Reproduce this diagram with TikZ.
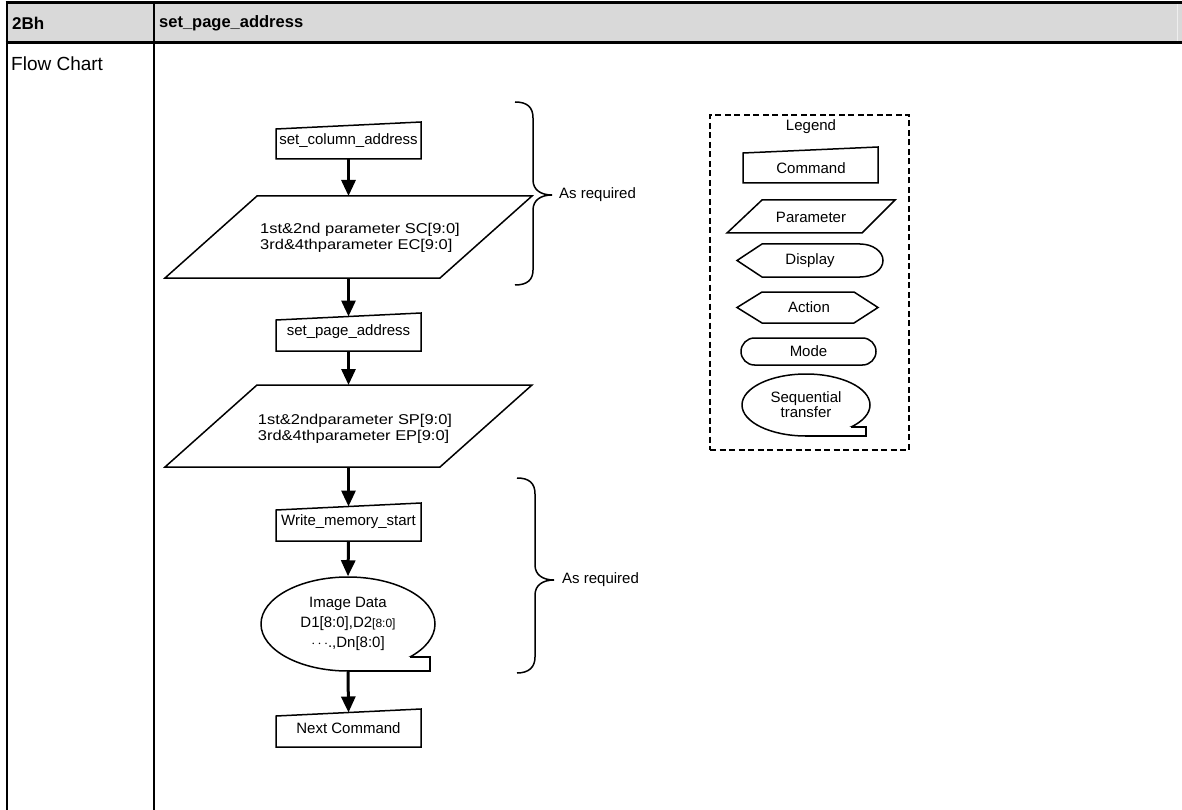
\documentclass[tikz,border=0pt]{standalone}
\usepackage{fontspec}
\setmainfont{Liberation Sans}
\newfontfamily\widefont[FakeStretch=1.16]{Liberation Sans}
\usetikzlibrary{arrows.meta,calc,shapes.geometric}
\definecolor{hdr}{HTML}{D9D9D9}
\definecolor{hdrline}{HTML}{EEEEEE}
\begin{document}
\begin{tikzpicture}[x=1pt,y=-1pt,
  shp/.style={draw=black,line width=1.5pt},
  lbl/.style={font=\fontsize{15}{16}\selectfont, inner sep=0pt},
  plbl/.style={font=\widefont\fontsize{14.2}{16.5}\selectfont, inner sep=0pt, align=left},
  box/.style={inner sep=0pt, outer sep=0pt},
  arr/.style={line width=3pt, -{Triangle[width=14pt,length=16pt]}},
  bracepath/.style={line width=1.5pt},
  ldash/.style={draw=black, line width=2.4pt, dash pattern=on 6pt off 3.5pt},
  ]
\useasboundingbox (0,0) rectangle (1182,810);
% ---------- table ----------
\fill[hdr] (7,3) rectangle (1182,43);
\draw[hdrline, line width=1pt] (1177,4.5) -- (1177,41.5);
\draw[line width=3pt] (5.7,3) -- (1182,3);
\draw[line width=3pt] (5.7,43) -- (1182,43);
\draw[line width=2.6pt] (7,1.5) -- (7,810);
\draw[line width=2.6pt] (154,1.5) -- (154,810);
\node[anchor=west, inner sep=0pt, font=\bfseries\fontsize{17}{19}\selectfont] (h1) at (12,23) {2Bh};
\node[anchor=west, inner sep=0pt, font=\bfseries\fontsize{16.5}{19}\selectfont] (h2) at (159,23) {set\_page\_address};
\node[anchor=west, inner sep=0pt, font=\fontsize{19}{21}\selectfont] (fc) at (11,64) {Flow Chart};
% ---------- flow chart ----------
\node[box, lbl, minimum width=145pt, minimum height=37pt] (c1) at (348.5,140.5) {set\_column\_address};
\draw[shp] (c1.south west) -- (c1.south east) -- (c1.north east) -- ($(c1.north west)+(0,7)$) -- cycle;

\node[box, minimum width=367pt, minimum height=82pt] (p1) at (348.5,237) {};
\draw[shp] ($(p1.north west)+(92,0)$) -- (p1.north east) -- ($(p1.south east)+(-92,0)$) -- (p1.south west) -- cycle;
\node[plbl] (p1t) at (360,238) {1st\&2nd parameter SC[9:0]\\3rd\&4thparameter EC[9:0]};

\node[box, lbl, minimum width=145pt, minimum height=38pt] (c2) at (348.5,332) {set\_page\_address};
\draw[shp] (c2.south west) -- (c2.south east) -- (c2.north east) -- ($(c2.north west)+(0,7)$) -- cycle;

\node[box, minimum width=367pt, minimum height=82pt] (p2) at (348.5,426) {};
\draw[shp] ($(p2.north west)+(92,0)$) -- (p2.north east) -- ($(p2.south east)+(-92,0)$) -- (p2.south west) -- cycle;
\node[plbl] (p2t) at (355,429) {1st\&2ndparameter SP[9:0]\\3rd\&4thparameter EP[9:0]};

\node[box, lbl, minimum width=145pt, minimum height=38pt] (c3) at (348.5,522) {Write\_memory\_start};
\draw[shp] (c3.south west) -- (c3.south east) -- (c3.north east) -- ($(c3.north west)+(0,7)$) -- cycle;

\node[shp, ellipse, inner sep=0pt, minimum width=174pt, minimum height=94pt, align=center, font=\fontsize{15}{20}\selectfont] (s1) at (348,624) {Image Data\\D1[8:0],D2{\fontsize{12}{12}\selectfont[8:0]}\\$\cdots$.,Dn[8:0]};
\fill[white] (349,657) rectangle (434,675);
\draw[shp] (347,671) -- (430,671) -- (430,657) -- (409.5,657);

\node[box, lbl, minimum width=145pt, minimum height=38pt] (c4) at (348.5,728) {Next Command};
\draw[shp] (c4.south west) -- (c4.south east) -- (c4.north east) -- ($(c4.north west)+(0,7)$) -- cycle;

% arrows
\draw[arr] (c1.south) -- (p1.north);
\draw[arr] (p1.south) -- ($(c2.north)+(0,3.5)$);
\draw[arr] (c2.south) -- (p2.north);
\draw[arr] (p2.south) -- ($(c3.north)+(0,3.5)$);
\draw[arr] (c3.south) -- (s1.north);
\draw[arr] (s1.south) -- ($(c4.north)+(0,3.5)$);

% braces
\draw[bracepath] (515,102) .. controls (527,102) and (533,107) .. (533,118) -- (533,180) .. controls (533,190) and (541,195) .. (552,195) .. controls (541,195) and (533,200) .. (533,210) -- (533,270) .. controls (533,280) and (527,285) .. (515,285);
\node[lbl, anchor=west] (ar1) at (559,195) {As required};
\draw[bracepath] (517,478) .. controls (529,478) and (535,483) .. (535,494) -- (535,565) .. controls (535,575) and (543,580) .. (554,580) .. controls (543,580) and (535,585) .. (535,595) -- (535,657) .. controls (535,667) and (529,673) .. (517,673);
\node[lbl, anchor=west] (ar2) at (562,580) {As required};

% ---------- legend ----------
\node[ldash, minimum width=199pt, minimum height=335pt, inner sep=0pt] (lg) at (809.5,282.5) {};
\node[lbl] (lgt) at (811,127) {Legend};
\draw[shp] (743,183) -- (878,183) -- (878,147) -- (743,153) -- cycle;
\node[lbl] (lc) at (811,168) {Command};
\draw[shp] (727,233) -- (862,233) -- (895,200) -- (762,200) -- cycle;
\node[lbl] (lp) at (811,217) {Parameter};
\draw[shp] (737,260.5) -- (762,244) -- (860,244) .. controls (872.7,244) and (883,251.4) .. (883,260.5) .. controls (883,269.6) and (872.7,277) .. (860,277) -- (762,277) -- cycle;
\node[lbl] (ld) at (810,261) {Display};
\draw[shp] (737,307.5) -- (762,292) -- (854,292) -- (878,307.5) -- (854,323) -- (762,323) -- cycle;
\node[lbl] (la) at (809,307.5) {Action};
\node[shp, lbl, rounded corners=13.5pt, minimum width=135pt, minimum height=27pt] (lm) at (808.5,351.5) {Mode};
\node[shp, ellipse, inner sep=0pt, minimum width=128pt, minimum height=62pt, align=center, font=\fontsize{15}{15}\selectfont] (ls) at (806,405) {Sequential\\transfer};
\fill[white] (807,427) rectangle (871,439);
\draw[shp] (805,436) -- (866,436) -- (866,427) -- (850.5,427);
\end{tikzpicture}
\end{document}
